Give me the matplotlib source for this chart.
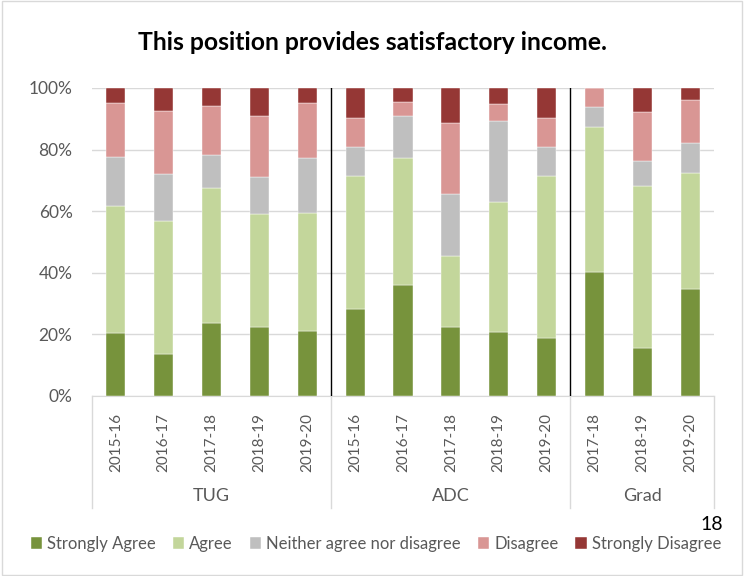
import numpy as np
import matplotlib.pyplot as plt
from matplotlib.lines import Line2D
from matplotlib.patches import Rectangle

plt.rcParams['font.family'] = ['Lato', 'DejaVu Sans']

# categories (group, year)
groups = ['TUG', 'ADC', 'Grad']
group_sizes = [5, 5, 3]
years = ['2015-16', '2016-17', '2017-18', '2018-19', '2019-20',
         '2015-16', '2016-17', '2017-18', '2018-19', '2019-20',
         '2017-18', '2018-19', '2019-20']

# percentages per response
strongly_agree = [20.3, 13.5, 23.7, 22.3, 21.1, 28.2, 36.0, 22.4, 20.7, 18.7, 40.3, 15.5, 34.9]
agree = [41.5, 43.4, 43.7, 36.7, 38.2, 43.1, 41.2, 23.0, 42.4, 52.6, 47.0, 52.8, 37.6]
neither = [15.9, 15.3, 10.8, 12.1, 18.0, 9.5, 13.7, 20.3, 26.3, 9.5, 6.4, 7.9, 9.8]
disagree = [17.5, 20.2, 15.8, 19.8, 17.9, 9.6, 4.5, 22.8, 5.4, 9.6, 6.3, 15.9, 13.8]
strongly_disagree = [4.8, 7.6, 6.0, 9.1, 4.8, 9.6, 4.6, 11.5, 5.2, 9.6, 0.0, 7.9, 3.9]

series = [('Strongly Agree', strongly_agree, '#77933C'),
          ('Agree', agree, '#C3D69B'),
          ('Neither agree nor disagree', neither, '#BFBFBF'),
          ('Disagree', disagree, '#D99694'),
          ('Strongly Disagree', strongly_disagree, '#953735')]

W, H = 752, 576
fig = plt.figure(figsize=(W / 100, H / 100), dpi=100)
ax = fig.add_axes([92 / W, (H - 396) / H, 622 / W, 308 / H])

x = np.arange(len(years))
bottom = np.zeros(len(years))
handles = []
for name, vals, col in series:
    vals = np.array(vals)
    b = ax.bar(x, vals, 0.4, bottom=bottom, color=col, edgecolor='white', linewidth=0.3, label=name, zorder=3)
    bottom += vals
    handles.append(b)

ax.set_xlim(-0.5, len(years) - 0.5)
ax.set_ylim(0, 100)
ax.set_yticks(np.arange(0, 101, 20))
ax.set_yticklabels([f'{v}%' for v in range(0, 101, 20)], fontsize=12.5, color='#595959')
ax.yaxis.grid(True, color='#D9D9D9', linewidth=1, zorder=0)
ax.tick_params(axis='y', length=0, pad=14)
ax.tick_params(axis='x', length=0, pad=12)
ax.set_xticks(x)
ax.set_xticklabels(years, rotation=90, fontsize=11, color='#595959')
for s in ['top', 'right', 'left']:
    ax.spines[s].set_visible(False)
ax.spines['bottom'].set_color('#D9D9D9')

# black separators between groups and gray category-level lines
edges = np.cumsum([0] + group_sizes) - 0.5
for e in edges[1:-1]:
    ax.axvline(e, color='black', linewidth=1, zorder=4)
trans = ax.get_xaxis_transform()
for e in edges:
    ax.add_line(Line2D([e, e], [0, -112 / 308], transform=trans, color='#D9D9D9', linewidth=1, clip_on=False))
for i, g in enumerate(groups):
    c = (edges[i] + edges[i + 1]) / 2
    ax.text(c, -100 / 308, g, transform=trans, ha='center', va='center', fontsize=13, color='#595959')

fig.text(372 / W, 1 - 43 / H, 'This position provides satisfactory income.', ha='center', va='center',
         fontsize=17.8, fontweight='bold', color='black')

fig.legend(handles=handles, loc='center', bbox_to_anchor=(376 / W, 1 - 544 / H), ncol=5, frameon=False,
           fontsize=12, handlelength=0.7, handleheight=0.7, handletextpad=0.3, columnspacing=1.0,
           labelcolor='#595959')
fig.text(712 / W, 1 - 525 / H, '18', ha='center', va='center', fontsize=14, color='black')

fig.patches.append(Rectangle((0.002, 0.002), 0.985, 0.996, transform=fig.transFigure, fill=False,
                             edgecolor='#D9D9D9', linewidth=1))

plt.savefig('out.png', dpi=100)
